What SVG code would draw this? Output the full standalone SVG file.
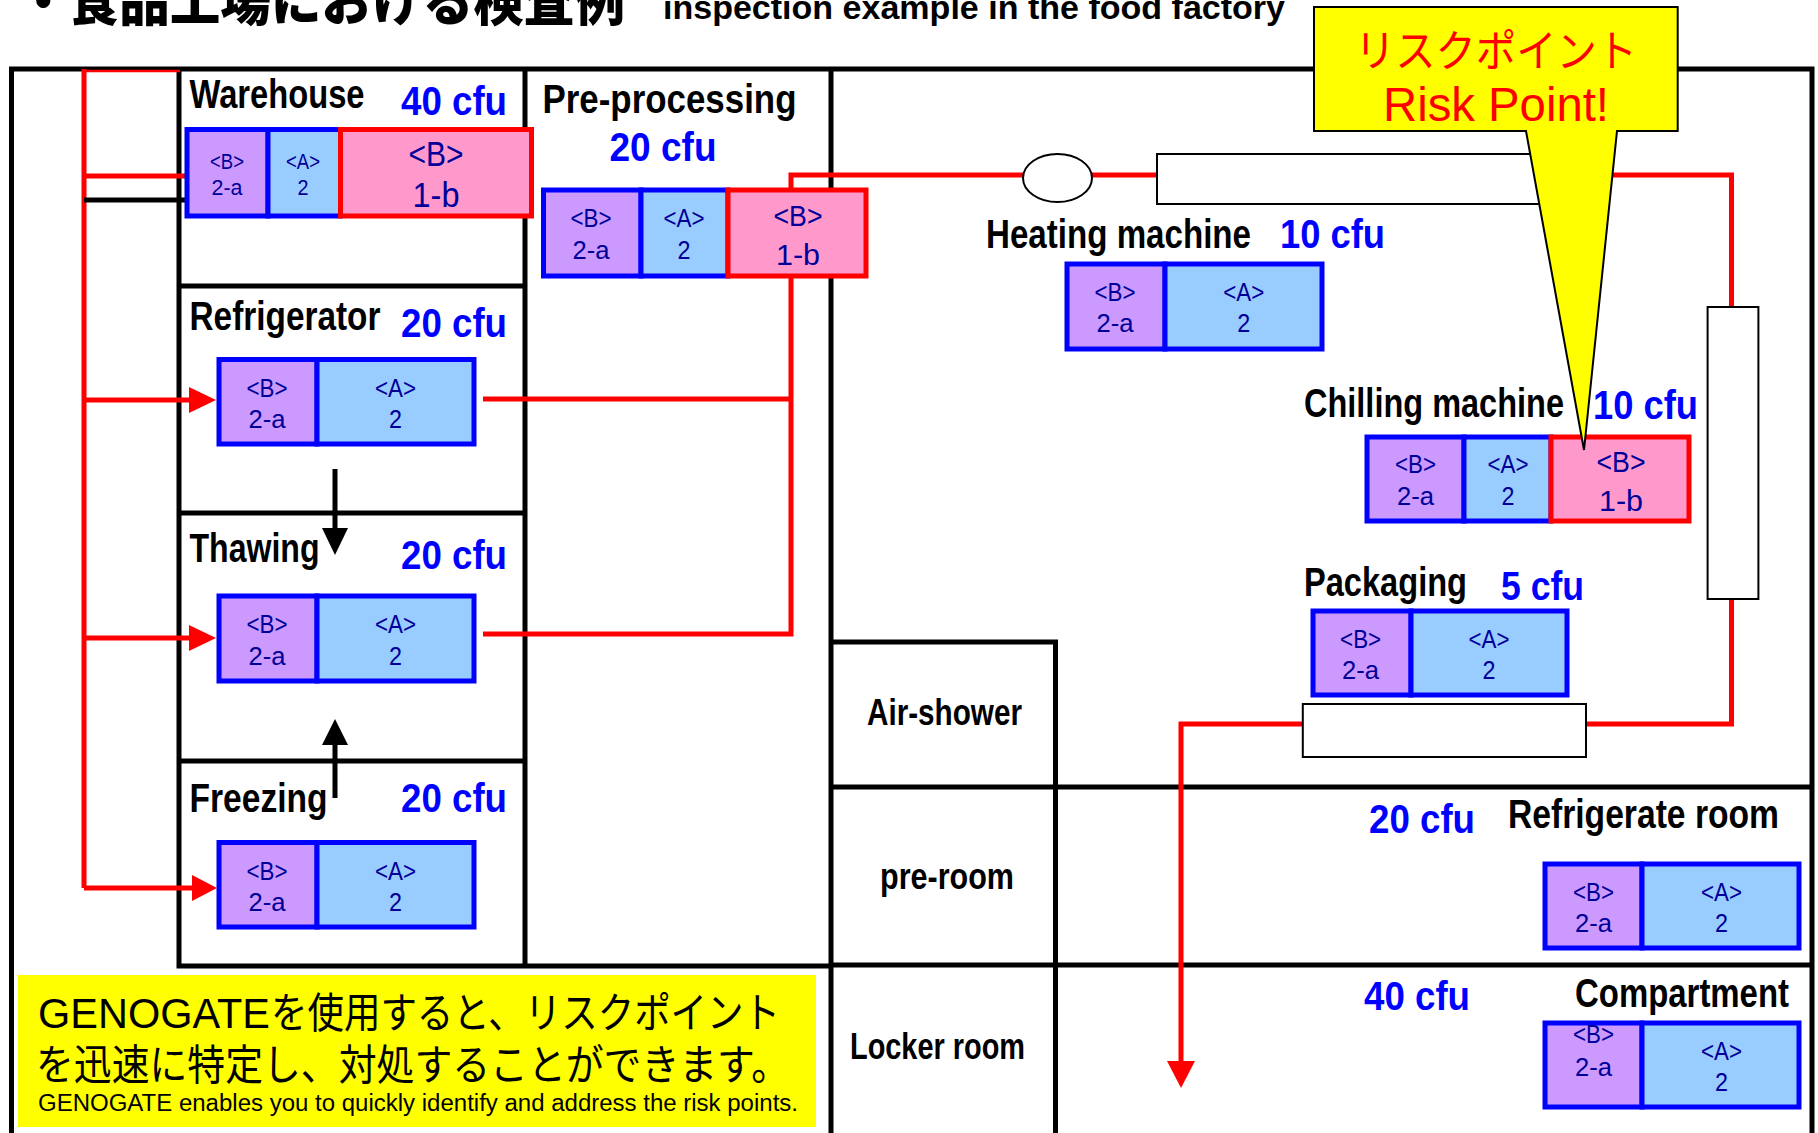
<svg xmlns="http://www.w3.org/2000/svg" width="1818" height="1133" viewBox="0 0 1818 1133">
<style>
text{font-family:"Liberation Sans","Noto Sans CJK JP",sans-serif}
.l{font-size:40px;font-weight:bold;fill:#000}
.c{font-size:41px;font-weight:bold;fill:#00f}
.r{font-size:36px;font-weight:bold;fill:#000}
.n{font-size:25px;fill:#000099;text-anchor:middle}
.s{font-size:22px;fill:#000099;text-anchor:middle}
.b{font-size:35px;fill:#000099;text-anchor:middle}
.m{font-size:29px;fill:#000099;text-anchor:middle}
.f{fill:none;stroke:#000;stroke-width:5}
.red{fill:none;stroke:#f00;stroke-width:5}
.pu{fill:#cc99ff;stroke:#00f;stroke-width:5}
.bl{fill:#99ccff;stroke:#00f;stroke-width:5}
.pk{fill:#ff99cc;stroke:#f00;stroke-width:5}
.box{fill:#fff;stroke:#000;stroke-width:2}
.jp{font-family:"Noto Sans CJK JP",sans-serif}
</style>
<rect width="1818" height="1133" fill="#fff"/>
<g id="title">
<text class="jp" x="18" y="21" font-size="54" font-weight="900" textLength="607" lengthAdjust="spacingAndGlyphs">・食品工場における検査例</text>
<text x="663" y="19" font-size="33" font-weight="bold" textLength="622" lengthAdjust="spacingAndGlyphs">inspection example in the food factory</text>
</g>
<g id="frame">
<path class="f" d="M11.500,1133V69H1812V1133"/>
<path class="f" d="M179,69V966M525,69V966M831,69V1133M179,286H525M179,513H525M179,761H525M176.500,966H831M831,642H1055.500V1133M831,787H1812M831,965H1812"/>
</g>
<g id="connectors">
<path class="red" d="M84,69V888M84,176H185M84,400H192M84,638H192M84,888H195"/>
<path d="M84,71H180" fill="none" stroke="#f00" stroke-width="2.500"/>
<path d="M84,200H185" fill="none" stroke="#000" stroke-width="5"/>
<path class="red" d="M483,399H791M483,634H791V175H1157M1578,175H1731.500V307M1731.500,600V724H1586M1302.800,724H1181V1065"/>
<path d="M335,469V530M335,798V743" fill="none" stroke="#000" stroke-width="5"/>
<polygon points="189,387 216,400 189,413" fill="#f00"/>
<polygon points="189,625 216,638 189,651" fill="#f00"/>
<polygon points="192,875 217,888 192,901" fill="#f00"/>
<polygon points="1167,1061 1195,1061 1181,1088" fill="#f00"/>
<polygon points="322,528 348,528 335,555" fill="#000"/>
<polygon points="322,745 348,745 335,719" fill="#000"/>
</g>
<g id="equipment">
<ellipse class="box" cx="1057.500" cy="178" rx="34.500" ry="24"/>
<rect class="box" x="1157" y="154" width="421" height="50"/>
<rect class="box" x="1707.600" y="307" width="50.800" height="292"/>
<rect class="box" x="1302.800" y="704" width="283.200" height="53"/>
</g>
<g id="rooms">
<text class="r" x="867" y="725" textLength="155" lengthAdjust="spacingAndGlyphs">Air-shower</text>
<text class="r" x="880" y="889" textLength="134" lengthAdjust="spacingAndGlyphs">pre-room</text>
<text class="r" x="850" y="1059" textLength="175" lengthAdjust="spacingAndGlyphs">Locker room</text>
</g>
<g id="warehouse">
<text class="l" x="189.500" y="108" textLength="175" lengthAdjust="spacingAndGlyphs">Warehouse</text>
<text class="c" x="401" y="115" textLength="106" lengthAdjust="spacingAndGlyphs">40 cfu</text>
<rect class="pu" x="187" y="129.500" width="81" height="86.500"/><rect class="bl" x="268" y="129.500" width="72.500" height="86.500"/><rect class="pk" x="340.500" y="129.500" width="191" height="86.500"/>
<text class="s" x="227" y="168.600" textLength="34" lengthAdjust="spacingAndGlyphs">&lt;B&gt;</text><text class="s" x="227" y="194.600" textLength="31" lengthAdjust="spacingAndGlyphs">2-a</text>
<text class="s" x="303" y="168.600" textLength="34" lengthAdjust="spacingAndGlyphs">&lt;A&gt;</text><text class="s" x="303" y="194.600" textLength="11" lengthAdjust="spacingAndGlyphs">2</text>
<text class="b" x="436" y="166" textLength="55" lengthAdjust="spacingAndGlyphs">&lt;B&gt;</text><text class="b" x="436" y="207" textLength="47" lengthAdjust="spacingAndGlyphs">1-b</text>
</g>
<g id="pre-processing">
<text class="l" x="542.500" y="112.500" textLength="254" lengthAdjust="spacingAndGlyphs">Pre-processing</text>
<text class="c" x="609.500" y="161" textLength="107" lengthAdjust="spacingAndGlyphs">20 cfu</text>
<rect class="pu" x="543.500" y="190" width="97.500" height="86"/><rect class="bl" x="641" y="190" width="87" height="86"/><rect class="pk" x="728" y="190" width="138" height="86"/>
<text class="n" x="591" y="227" textLength="41" lengthAdjust="spacingAndGlyphs">&lt;B&gt;</text><text class="n" x="591" y="259" textLength="37" lengthAdjust="spacingAndGlyphs">2-a</text>
<text class="n" x="684" y="227" textLength="41" lengthAdjust="spacingAndGlyphs">&lt;A&gt;</text><text class="n" x="684" y="259" textLength="13" lengthAdjust="spacingAndGlyphs">2</text>
<text class="m" x="798" y="226" textLength="49" lengthAdjust="spacingAndGlyphs">&lt;B&gt;</text><text class="m" x="798" y="265" textLength="44" lengthAdjust="spacingAndGlyphs">1-b</text>
</g>
<g id="refrigerator">
<text class="l" x="189.500" y="330" textLength="191" lengthAdjust="spacingAndGlyphs">Refrigerator</text>
<text class="c" x="401" y="337" textLength="106" lengthAdjust="spacingAndGlyphs">20 cfu</text>
<rect class="pu" x="219" y="359.500" width="98" height="84.500"/><rect class="bl" x="317" y="359.500" width="157" height="84.500"/>
<text class="n" x="267" y="396.500" textLength="41" lengthAdjust="spacingAndGlyphs">&lt;B&gt;</text><text class="n" x="267" y="428" textLength="37" lengthAdjust="spacingAndGlyphs">2-a</text>
<text class="n" x="395.500" y="396.500" textLength="41" lengthAdjust="spacingAndGlyphs">&lt;A&gt;</text><text class="n" x="395.500" y="428" textLength="13" lengthAdjust="spacingAndGlyphs">2</text>
</g>
<g id="thawing">
<text class="l" x="189.500" y="562" textLength="130" lengthAdjust="spacingAndGlyphs">Thawing</text>
<text class="c" x="401" y="569" textLength="106" lengthAdjust="spacingAndGlyphs">20 cfu</text>
<rect class="pu" x="219" y="596" width="98" height="85"/><rect class="bl" x="317" y="596" width="157" height="85"/>
<text class="n" x="267" y="633" textLength="41" lengthAdjust="spacingAndGlyphs">&lt;B&gt;</text><text class="n" x="267" y="665" textLength="37" lengthAdjust="spacingAndGlyphs">2-a</text>
<text class="n" x="395.500" y="633" textLength="41" lengthAdjust="spacingAndGlyphs">&lt;A&gt;</text><text class="n" x="395.500" y="665" textLength="13" lengthAdjust="spacingAndGlyphs">2</text>
</g>
<g id="freezing">
<text class="l" x="189.500" y="812" textLength="138" lengthAdjust="spacingAndGlyphs">Freezing</text>
<text class="c" x="401" y="812" textLength="106" lengthAdjust="spacingAndGlyphs">20 cfu</text>
<rect class="pu" x="219" y="842.500" width="98" height="84.500"/><rect class="bl" x="317" y="842.500" width="157" height="84.500"/>
<text class="n" x="267" y="879.500" textLength="41" lengthAdjust="spacingAndGlyphs">&lt;B&gt;</text><text class="n" x="267" y="911" textLength="37" lengthAdjust="spacingAndGlyphs">2-a</text>
<text class="n" x="395.500" y="879.500" textLength="41" lengthAdjust="spacingAndGlyphs">&lt;A&gt;</text><text class="n" x="395.500" y="911" textLength="13" lengthAdjust="spacingAndGlyphs">2</text>
</g>
<g id="heating">
<text class="l" x="986" y="248" textLength="265" lengthAdjust="spacingAndGlyphs">Heating machine</text>
<text class="c" x="1280" y="248" textLength="105" lengthAdjust="spacingAndGlyphs">10 cfu</text>
<rect class="pu" x="1067" y="264" width="98" height="85"/><rect class="bl" x="1165" y="264" width="157" height="85"/>
<text class="n" x="1115" y="300.500" textLength="41" lengthAdjust="spacingAndGlyphs">&lt;B&gt;</text><text class="n" x="1115" y="332" textLength="37" lengthAdjust="spacingAndGlyphs">2-a</text>
<text class="n" x="1243.700" y="300.500" textLength="41" lengthAdjust="spacingAndGlyphs">&lt;A&gt;</text><text class="n" x="1243.700" y="332" textLength="13" lengthAdjust="spacingAndGlyphs">2</text>
</g>
<g id="chilling">
<text class="l" x="1304" y="417" textLength="260" lengthAdjust="spacingAndGlyphs">Chilling machine</text>
<text class="c" x="1593" y="419" textLength="105" lengthAdjust="spacingAndGlyphs">10 cfu</text>
<rect class="pu" x="1367" y="437" width="97" height="84"/><rect class="bl" x="1464" y="437" width="87" height="84"/><rect class="pk" x="1551" y="437" width="138" height="84"/>
<text class="n" x="1415.500" y="472.500" textLength="41" lengthAdjust="spacingAndGlyphs">&lt;B&gt;</text><text class="n" x="1415.500" y="505" textLength="37" lengthAdjust="spacingAndGlyphs">2-a</text>
<text class="n" x="1508" y="472.500" textLength="41" lengthAdjust="spacingAndGlyphs">&lt;A&gt;</text><text class="n" x="1508" y="505" textLength="13" lengthAdjust="spacingAndGlyphs">2</text>
<text class="m" x="1621" y="472" textLength="49" lengthAdjust="spacingAndGlyphs">&lt;B&gt;</text><text class="m" x="1621" y="511" textLength="44" lengthAdjust="spacingAndGlyphs">1-b</text>
</g>
<g id="packaging">
<text class="l" x="1304" y="596" textLength="163" lengthAdjust="spacingAndGlyphs">Packaging</text>
<text class="c" x="1501" y="599.500" textLength="83" lengthAdjust="spacingAndGlyphs">5 cfu</text>
<rect class="pu" x="1313" y="611" width="98" height="84"/><rect class="bl" x="1411" y="611" width="156" height="84"/>
<text class="n" x="1360.600" y="647.500" textLength="41" lengthAdjust="spacingAndGlyphs">&lt;B&gt;</text><text class="n" x="1360.600" y="679" textLength="37" lengthAdjust="spacingAndGlyphs">2-a</text>
<text class="n" x="1489" y="647.500" textLength="41" lengthAdjust="spacingAndGlyphs">&lt;A&gt;</text><text class="n" x="1489" y="679" textLength="13" lengthAdjust="spacingAndGlyphs">2</text>
</g>
<g id="refrigerate-room">
<text class="l" x="1508" y="828" textLength="271" lengthAdjust="spacingAndGlyphs">Refrigerate room</text>
<text class="c" x="1369" y="833" textLength="106" lengthAdjust="spacingAndGlyphs">20 cfu</text>
<rect class="pu" x="1545" y="864" width="97" height="84"/><rect class="bl" x="1642" y="864" width="157" height="84"/>
<text class="n" x="1593.500" y="900.500" textLength="41" lengthAdjust="spacingAndGlyphs">&lt;B&gt;</text><text class="n" x="1593.500" y="932" textLength="37" lengthAdjust="spacingAndGlyphs">2-a</text>
<text class="n" x="1721.500" y="900.500" textLength="41" lengthAdjust="spacingAndGlyphs">&lt;A&gt;</text><text class="n" x="1721.500" y="932" textLength="13" lengthAdjust="spacingAndGlyphs">2</text>
</g>
<g id="compartment">
<text class="l" x="1575" y="1006.500" textLength="214" lengthAdjust="spacingAndGlyphs">Compartment</text>
<text class="c" x="1364" y="1010" textLength="106" lengthAdjust="spacingAndGlyphs">40 cfu</text>
<rect class="pu" x="1545" y="1023" width="97" height="84"/><rect class="bl" x="1642" y="1023" width="157" height="84"/>
<text class="n" x="1593.500" y="1042.500" textLength="41" lengthAdjust="spacingAndGlyphs">&lt;B&gt;</text><text class="n" x="1593.500" y="1076" textLength="37" lengthAdjust="spacingAndGlyphs">2-a</text>
<text class="n" x="1721.500" y="1059.500" textLength="41" lengthAdjust="spacingAndGlyphs">&lt;A&gt;</text><text class="n" x="1721.500" y="1091" textLength="13" lengthAdjust="spacingAndGlyphs">2</text>
</g>
<g id="note">
<rect x="18" y="975" width="798" height="152" fill="#ff0"/>
<text y="1028" font-size="42"><tspan x="38" textLength="232" lengthAdjust="spacingAndGlyphs">GENOGATE</tspan><tspan class="jp" x="271" textLength="509" lengthAdjust="spacingAndGlyphs">を使用すると、リスクポイント</tspan></text>
<text class="jp" x="36" y="1080" font-size="42" textLength="753" lengthAdjust="spacingAndGlyphs">を迅速に特定し、対処することができます。</text>
<text x="38" y="1111" font-size="23.500" textLength="760" lengthAdjust="spacingAndGlyphs">GENOGATE enables you to quickly identify and address the risk points.</text>
</g>
<g id="risk-callout">
<path d="M1314,7H1677.700V131H1617L1584,450L1526,131H1314Z" fill="#ff0" stroke="#000" stroke-width="2"/>
<text class="jp" x="1355" y="67" font-size="44" fill="#f00" textLength="282" lengthAdjust="spacingAndGlyphs">リスクポイント</text>
<text x="1383" y="120.500" font-size="48" fill="#f00" textLength="226" lengthAdjust="spacingAndGlyphs">Risk Point!</text>
</g>
</svg>
